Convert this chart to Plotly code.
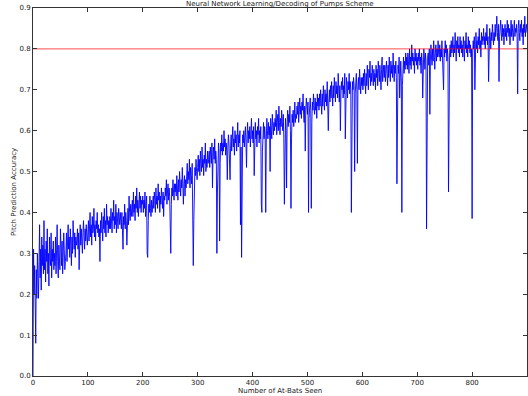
import plotly.graph_objects as go

title_text = "Neural Network Learning/Decoding of Pumps Scheme"
x_title = "Number of At-Bats Seen"
y_title = "Pitch Prediction Accuracy"
x_ticks = [0, 100, 200, 300, 400, 500, 600, 700, 800, 900]
y_ticks = [0.0, 0.1, 0.2, 0.3, 0.4, 0.5, 0.6, 0.7, 0.8, 0.9]
target_level = 0.8

accuracy = [
    0.0, 0.31, 0.2, 0.27, 0.15, 0.08, 0.26, 0.19, 0.3, 0.22, 0.19, 0.28, 0.37, 0.24, 0.31, 0.21, 0.34, 0.27, 0.32, 0.25,
    0.38, 0.26, 0.31, 0.23, 0.33, 0.28, 0.36, 0.25, 0.30, 0.22, 0.34, 0.29, 0.27, 0.35, 0.24, 0.31, 0.28, 0.33, 0.26, 0.30,
    0.27, 0.34, 0.25, 0.31, 0.37, 0.28, 0.24, 0.32, 0.29, 0.26, 0.36, 0.30, 0.27, 0.33, 0.25, 0.29, 0.35, 0.31, 0.26, 0.28,
    0.30, 0.35, 0.28, 0.33, 0.37, 0.31, 0.34, 0.29, 0.36, 0.32, 0.27, 0.34, 0.30, 0.38, 0.33, 0.31, 0.35, 0.29, 0.34, 0.32,
    0.33, 0.36, 0.31, 0.35, 0.26, 0.34, 0.37, 0.32, 0.36, 0.33, 0.30, 0.35, 0.38, 0.34, 0.31, 0.36, 0.33, 0.37, 0.35, 0.32,
    0.35, 0.38, 0.33, 0.36, 0.40, 0.34, 0.37, 0.32, 0.39, 0.35, 0.36, 0.41, 0.34, 0.37, 0.33, 0.38, 0.36, 0.40, 0.35, 0.37,
    0.34, 0.36, 0.28, 0.38, 0.35, 0.40, 0.37, 0.33, 0.39, 0.36, 0.41, 0.35, 0.38, 0.34, 0.42, 0.37, 0.39, 0.35, 0.38, 0.36,
    0.39, 0.36, 0.41, 0.37, 0.35, 0.40, 0.38, 0.43, 0.36, 0.39, 0.37, 0.42, 0.35, 0.40, 0.38, 0.36, 0.41, 0.39, 0.37, 0.40,
    0.38, 0.36, 0.40, 0.35, 0.31, 0.39, 0.37, 0.42, 0.36, 0.40, 0.38, 0.32, 0.39, 0.41, 0.37, 0.44, 0.40, 0.38, 0.42, 0.39,
    0.41, 0.43, 0.39, 0.45, 0.40, 0.42, 0.38, 0.44, 0.41, 0.46, 0.40, 0.43, 0.39, 0.42, 0.45, 0.41, 0.44, 0.40, 0.43, 0.42,
    0.44, 0.40, 0.43, 0.41, 0.45, 0.39, 0.42, 0.44, 0.30, 0.29, 0.38, 0.42, 0.40, 0.44, 0.41, 0.39, 0.43, 0.40, 0.42, 0.44,
    0.41, 0.45, 0.43, 0.40, 0.46, 0.42, 0.44, 0.41, 0.47, 0.43, 0.45, 0.40, 0.44, 0.42, 0.46, 0.43, 0.41, 0.45, 0.39, 0.44,
    0.43, 0.46, 0.44, 0.48, 0.42, 0.45, 0.47, 0.43, 0.46, 0.44, 0.33, 0.30, 0.42, 0.46, 0.44, 0.48, 0.45, 0.43, 0.47, 0.45,
    0.47, 0.44, 0.49, 0.46, 0.43, 0.48, 0.45, 0.50, 0.47, 0.44, 0.48, 0.46, 0.51, 0.45, 0.42, 0.47, 0.49, 0.44, 0.48, 0.46,
    0.49, 0.52, 0.47, 0.50, 0.48, 0.53, 0.46, 0.51, 0.49, 0.47, 0.52, 0.44, 0.27, 0.38, 0.48, 0.51, 0.49, 0.53, 0.50, 0.48,
    0.51, 0.54, 0.50, 0.53, 0.49, 0.55, 0.52, 0.50, 0.56, 0.51, 0.53, 0.49, 0.54, 0.52, 0.57, 0.50, 0.53, 0.51, 0.55, 0.52,
    0.53, 0.55, 0.51, 0.56, 0.54, 0.52, 0.57, 0.46, 0.54, 0.56, 0.53, 0.58, 0.52, 0.55, 0.53, 0.30, 0.45, 0.54, 0.57, 0.55,
    0.33, 0.52, 0.57, 0.55, 0.59, 0.54, 0.57, 0.55, 0.60, 0.56, 0.58, 0.54, 0.57, 0.55, 0.48, 0.56, 0.59, 0.57, 0.54, 0.48,
    0.56, 0.59, 0.55, 0.58, 0.61, 0.56, 0.58, 0.54, 0.60, 0.57, 0.59, 0.55, 0.58, 0.62, 0.56, 0.59, 0.57, 0.60, 0.37, 0.56,
    0.29, 0.55, 0.59, 0.57, 0.60, 0.56, 0.58, 0.61, 0.57, 0.51, 0.59, 0.62, 0.57, 0.60, 0.58, 0.61, 0.56, 0.59, 0.63, 0.58,
    0.60, 0.57, 0.61, 0.49, 0.59, 0.62, 0.58, 0.60, 0.56, 0.61, 0.59, 0.63, 0.57, 0.60, 0.58, 0.61, 0.42, 0.40, 0.55, 0.60,
    0.62, 0.58, 0.61, 0.59, 0.40, 0.57, 0.63, 0.60, 0.58, 0.62, 0.59, 0.61, 0.50, 0.63, 0.60, 0.58, 0.64, 0.61, 0.59, 0.62,
    0.60, 0.63, 0.61, 0.65, 0.59, 0.62, 0.64, 0.60, 0.66, 0.62, 0.59, 0.63, 0.61, 0.65, 0.62, 0.60, 0.64, 0.58, 0.42, 0.61,
    0.63, 0.60, 0.46, 0.62, 0.65, 0.61, 0.64, 0.62, 0.66, 0.60, 0.41, 0.58, 0.64, 0.62, 0.65, 0.61, 0.63, 0.67, 0.62, 0.64,
    0.63, 0.66, 0.64, 0.67, 0.62, 0.65, 0.68, 0.64, 0.66, 0.63, 0.67, 0.65, 0.69, 0.64, 0.62, 0.66, 0.55, 0.65, 0.68, 0.66,
    0.64, 0.67, 0.40, 0.63, 0.66, 0.68, 0.65, 0.41, 0.62, 0.67, 0.65, 0.69, 0.66, 0.64, 0.68, 0.65, 0.67, 0.63, 0.69, 0.66,
    0.68, 0.65, 0.69, 0.66, 0.70, 0.67, 0.64, 0.69, 0.66, 0.71, 0.68, 0.65, 0.70, 0.67, 0.69, 0.66, 0.72, 0.68, 0.60, 0.67,
    0.70, 0.67, 0.71, 0.68, 0.72, 0.69, 0.66, 0.71, 0.68, 0.73, 0.70, 0.67, 0.72, 0.69, 0.71, 0.68, 0.74, 0.70, 0.67, 0.71,
    0.60, 0.69, 0.72, 0.70, 0.73, 0.68, 0.71, 0.69, 0.74, 0.58, 0.70, 0.73, 0.71, 0.68, 0.72, 0.70, 0.74, 0.69, 0.72, 0.70,
    0.40, 0.68, 0.72, 0.70, 0.73, 0.71, 0.50, 0.69, 0.72, 0.74, 0.70, 0.52, 0.71, 0.73, 0.70, 0.75, 0.72, 0.69, 0.73, 0.71,
    0.73, 0.70, 0.74, 0.71, 0.75, 0.72, 0.69, 0.74, 0.71, 0.76, 0.72, 0.70, 0.75, 0.73, 0.77, 0.71, 0.74, 0.72, 0.76, 0.73,
    0.71, 0.75, 0.72, 0.74, 0.70, 0.76, 0.73, 0.75, 0.71, 0.77, 0.74, 0.72, 0.76, 0.73, 0.70, 0.75, 0.78, 0.72, 0.74, 0.76,
    0.73, 0.76, 0.72, 0.75, 0.77, 0.74, 0.71, 0.76, 0.73, 0.78, 0.75, 0.72, 0.77, 0.74, 0.76, 0.73, 0.79, 0.75, 0.72, 0.76,
    0.74, 0.77, 0.73, 0.47, 0.72, 0.76, 0.74, 0.78, 0.68, 0.75, 0.77, 0.73, 0.40, 0.71, 0.76, 0.78, 0.74, 0.77, 0.75, 0.79,
    0.76, 0.78, 0.75, 0.79, 0.77, 0.74, 0.80, 0.76, 0.78, 0.75, 0.81, 0.77, 0.79, 0.76, 0.78, 0.74, 0.80, 0.77, 0.79, 0.76,
    0.78, 0.75, 0.79, 0.77, 0.80, 0.76, 0.78, 0.74, 0.79, 0.77, 0.68, 0.76, 0.80, 0.78, 0.75, 0.79, 0.77, 0.36, 0.74, 0.78,
    0.79, 0.76, 0.80, 0.64, 0.77, 0.81, 0.78, 0.76, 0.80, 0.77, 0.82, 0.78, 0.75, 0.79, 0.81, 0.77, 0.80, 0.78, 0.82, 0.79,
    0.78, 0.81, 0.77, 0.80, 0.78, 0.82, 0.79, 0.76, 0.70, 0.80, 0.78, 0.82, 0.79, 0.81, 0.77, 0.80, 0.78, 0.45, 0.68, 0.79,
    0.81, 0.78, 0.82, 0.79, 0.80, 0.83, 0.78, 0.81, 0.79, 0.84, 0.80, 0.77, 0.82, 0.80, 0.83, 0.79, 0.81, 0.78, 0.83, 0.80,
    0.82, 0.79, 0.81, 0.78, 0.83, 0.80, 0.77, 0.82, 0.80, 0.84, 0.79, 0.81, 0.78, 0.83, 0.80, 0.82, 0.79, 0.81, 0.78, 0.80,
    0.385, 0.79, 0.82, 0.80, 0.83, 0.70, 0.81, 0.84, 0.80, 0.82, 0.79, 0.83, 0.81, 0.85, 0.80, 0.82, 0.78, 0.84, 0.81, 0.83,
    0.82, 0.85, 0.81, 0.83, 0.80, 0.84, 0.82, 0.86, 0.81, 0.83, 0.72, 0.82, 0.85, 0.83, 0.80, 0.84, 0.82, 0.86, 0.83, 0.81,
    0.84, 0.82, 0.86, 0.83, 0.85, 0.88, 0.84, 0.82, 0.86, 0.72, 0.83, 0.85, 0.87, 0.84, 0.82, 0.86, 0.83, 0.85, 0.81, 0.84,
    0.86, 0.83, 0.85, 0.82, 0.87, 0.84, 0.86, 0.83, 0.85, 0.81, 0.84, 0.87, 0.83, 0.86, 0.84, 0.82, 0.85, 0.87, 0.83, 0.85,
    0.84, 0.86, 0.83, 0.69, 0.85, 0.87, 0.84, 0.82, 0.86, 0.84, 0.87, 0.83, 0.85, 0.81, 0.86, 0.84, 0.88, 0.83, 0.85, 0.86,
    0.84,
]
at_bats = list(range(len(accuracy)))

font_family = "DejaVu Sans"
text_color = "#222222"

fig = go.Figure()
fig.add_trace(go.Scatter(
    x=at_bats, y=accuracy, mode="lines",
    line=dict(color="#0000ff", width=0.9),
    showlegend=False, hoverinfo="skip",
))
fig.add_trace(go.Scatter(
    x=[x_ticks[0], x_ticks[-1]], y=[target_level, target_level], mode="lines",
    line=dict(color="rgba(255,0,0,0.7)", width=1),
    showlegend=False, hoverinfo="skip",
))

axis_common = dict(
    showline=True, linecolor="#333333", linewidth=1, mirror="allticks",
    ticks="inside", ticklen=4, tickcolor="#333333", tickwidth=1,
    showgrid=False, zeroline=False, automargin=False,
    tickfont=dict(family=font_family, size=7, color=text_color),
)

plot_l, plot_r, plot_t, plot_b = 33, 1, 8, 20
plot_w = 528 - plot_l - plot_r
plot_h = 396 - plot_t - plot_b

fig.update_layout(
    width=528, height=396,
    margin=dict(l=plot_l, r=plot_r, t=plot_t, b=plot_b, autoexpand=False),
    paper_bgcolor="white", plot_bgcolor="white",
    font=dict(family=font_family, size=7, color=text_color),
    xaxis=dict(
        range=[0, 900], tickvals=x_ticks, ticktext=[str(v) for v in x_ticks],
        **axis_common,
    ),
    yaxis=dict(
        range=[0, 0.9], tickvals=y_ticks, ticktext=[f"{v:.1f}" for v in y_ticks],
        **axis_common,
    ),
    annotations=[
        dict(
            text=title_text, xref="paper", yref="paper", x=0.5, y=1 + 4.5 / plot_h,
            xanchor="center", yanchor="middle", showarrow=False,
            font=dict(family=font_family, size=7, color=text_color),
        ),
        dict(
            text=x_title, xref="paper", yref="paper", x=0.5, y=-(390.5 - (396 - plot_b)) / plot_h,
            xanchor="center", yanchor="middle", showarrow=False,
            font=dict(family=font_family, size=7, color=text_color),
        ),
        dict(
            text=y_title, xref="paper", yref="paper", x=-(plot_l - 14) / plot_w, y=0.5,
            xanchor="center", yanchor="middle", showarrow=False, textangle=-90,
            font=dict(family=font_family, size=7, color=text_color),
        ),
    ],
)

fig.write_html(
    "out.html",
    config={"displayModeBar": False},
    post_script="document.body.style.margin='0';document.body.style.overflow='hidden';",
)
